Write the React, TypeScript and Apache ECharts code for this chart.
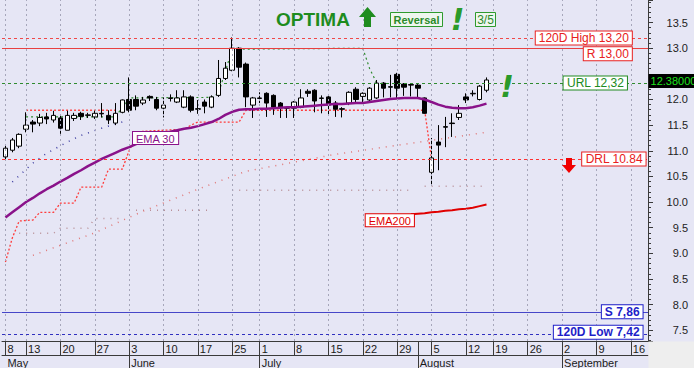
import React, { useEffect, useRef } from 'react';
import * as echarts from 'echarts';

const FONT = '"Liberation Sans", Arial, sans-serif';
const BG = '#E6E6F5';

// Trading calendar
const FIRST_DAY = '2019-05-08';
const LAST_DAY = '2019-09-18';
const NO_SESSION = ['2019-06-24', '2019-08-16'];
const MONTH_NAMES = ['January', 'February', 'March', 'April', 'May', 'June', 'July', 'August', 'September', 'October', 'November', 'December'];

// Daily candles
const OPEN = [
  10.88, 11.01, 11.09, 11.42, 11.56, 11.54, 11.66, 11.60, 11.64, 11.40,
  11.63, 11.73, 11.69, 11.66, 11.73, 11.69, 11.54, 11.75, 12.00, 12.00,
  11.93, 12.06, 12.00, 11.83, 12.02, 11.95, 11.85, 12.05, 11.82, 11.95,
  11.85, 12.08, 12.41, 12.57, 13.00, 12.69, 11.89, 12.02, 12.12, 12.08,
  11.93, 11.84, 11.83, 11.85, 12.16, 12.18, 12.02, 12.05, 11.93, 11.82,
  11.93, 12.20, 12.06, 11.99, 12.03, 12.32, 12.25, 12.49, 12.30, 12.29,
  12.28, 12.03, 10.58, 11.17, 11.47, 11.54, 11.65, 12.05, 12.11, 12.00,
  12.18,
];
const CLOSE = [
  11.05, 11.21, 11.32, 11.50, 11.52, 11.65, 11.62, 11.69, 11.44, 11.69,
  11.69, 11.67, 11.70, 11.73, 11.72, 11.60, 11.73, 11.99, 11.79, 11.87,
  11.99, 12.03, 11.83, 11.89, 12.03, 12.03, 12.05, 11.79, 11.81, 11.87,
  12.05, 12.41, 12.61, 13.00, 12.63, 12.05, 12.03, 12.03, 11.93, 11.85,
  11.85, 11.83, 11.95, 12.03, 12.12, 11.97, 12.03, 11.89, 11.81, 11.81,
  12.14, 12.00, 12.12, 12.22, 12.32, 12.22, 12.24, 12.22, 12.24, 12.28,
  12.22, 11.73, 10.86, 11.11, 11.46, 11.53, 11.73, 11.99, 12.12, 12.26,
  12.38,
];
const LOW = [
  10.82, 10.97, 11.05, 11.36, 11.36, 11.48, 11.52, 11.55, 11.33, 11.40,
  11.58, 11.60, 11.64, 11.62, 11.65, 11.52, 11.50, 11.73, 11.75, 11.79,
  11.89, 11.97, 11.79, 11.65, 11.96, 11.93, 11.83, 11.75, 11.72, 11.73,
  11.83, 12.05, 12.38, 12.55, 12.43, 11.85, 11.64, 11.93, 11.66, 11.70,
  11.64, 11.64, 11.64, 11.83, 12.05, 11.75, 11.73, 11.68, 11.66, 11.65,
  11.89, 11.93, 11.93, 11.97, 12.01, 12.04, 12.04, 12.03, 12.07, 12.06,
  12.04, 11.72, 10.33, 10.62, 11.07, 11.27, 11.60, 11.93, 12.06, 11.98,
  12.14,
];
const HIGH = [
  11.10, 11.25, 11.34, 11.75, 11.60, 11.72, 11.74, 11.78, 11.70, 11.78,
  11.74, 11.76, 11.74, 11.78, 11.93, 11.79, 11.93, 12.00, 12.43, 12.08,
  12.05, 12.08, 12.05, 12.04, 12.10, 12.18, 12.18, 12.08, 11.99, 12.00,
  12.08, 12.77, 12.73, 13.21, 13.02, 12.72, 12.05, 12.14, 12.14, 12.10,
  11.95, 11.85, 11.97, 12.20, 12.20, 12.20, 12.08, 12.07, 11.97, 11.85,
  12.16, 12.24, 12.14, 12.24, 12.38, 12.34, 12.48, 12.52, 12.32, 12.32,
  12.30, 12.04, 11.25, 11.50, 11.66, 11.73, 11.89, 12.12, 12.18, 12.28,
  12.43,
];

const EMA30 = [
  9.70, 9.80, 9.90, 10.00, 10.08, 10.17, 10.25, 10.32, 10.40, 10.47,
  10.55, 10.62, 10.70, 10.77, 10.84, 10.90, 10.96, 11.02, 11.07, 11.13,
  11.19, 11.25, 11.31, 11.35, 11.37, 11.40, 11.43, 11.45, 11.48, 11.52,
  11.56, 11.62, 11.70, 11.76, 11.80, 11.81, 11.81, 11.82, 11.82, 11.83,
  11.84, 11.85, 11.85, 11.86, 11.87, 11.88, 11.89, 11.90, 11.91, 11.91,
  11.92, 11.93, 11.93, 11.95, 11.97, 11.99, 12.01, 12.02, 12.03, 12.03,
  12.03, 12.00, 11.95, 11.90, 11.86, 11.84, 11.83, 11.83, 11.85, 11.88,
  11.92,
];
// [dayIndex, value]
const EMA200 = [
  [59, 9.76], [60, 9.77], [61, 9.78], [62, 9.80], [63, 9.81], [64, 9.83],
  [65, 9.84], [66, 9.86], [67, 9.87], [68, 9.89], [69, 9.92], [70, 9.95],
];
const DOWN_STOP = [
  [0, 8.83], [1, 9.3], [2, 9.63], [4, 9.65], [5, 9.80], [7, 9.80], [8, 9.98],
  [10, 9.98], [11, 10.29], [14, 10.29], [15, 10.64], [17, 10.64], [18, 11.0],
  [19, 11.27], [20, 11.38], [26, 11.42], [27, 11.5], [28, 11.56], [34, 11.56],
  [35, 11.79], [61, 11.79], [62, 10.84],
];
const OLD_STOP = [[3, 11.79], [16, 11.79]];
const UP_STOP = [
  [3, 11.66], [16, 11.66], [18, 12.03], [30, 12.04], [31, 12.12], [33, 12.98],
  [52, 13.0], [53, 12.6], [54, 12.33],
];
const LOWER_BAND = [[4, 8.96], [13, 9.4], [20, 9.82], [28, 10.25], [35, 10.6], [48, 10.93], [70, 11.36]];
// [fromIndex, toIndex, value]
const FLOOR_STEPS = [[2, 7, 9.39], [8, 12, 9.49], [13, 17, 9.68], [19, 30, 9.84], [33, 59, 10.23], [61, 70, 10.31]];
const UPPER_BAND = [[1, 10.39], [4, 10.76], [6, 10.95], [9, 11.17], [11, 11.3], [14, 11.44], [17, 11.56]];

const LEVEL_VALUES = [13.2, 13.0, 12.32, 10.84, 7.86, 7.42];
const LEVEL_TEXT = ['120D High 13,20', 'R 13,00', 'URL 12,32', 'DRL 10.84', 'S 7,86', '120D Low 7,42'];
const LAST_PRICE = 12.38;
const LAST_PRICE_TEXT = '12.38000';
// the axis label covered by the last-price tag in the reference
const COVERED_TICK = 12.5;

function buildDates(): string[] {
  const out: string[] = [];
  const d = new Date(FIRST_DAY + 'T00:00:00Z');
  const end = new Date(LAST_DAY + 'T00:00:00Z');
  while (d <= end) {
    const wd = d.getUTCDay();
    const s = d.toISOString().slice(0, 10);
    if (wd !== 0 && wd !== 6 && NO_SESSION.indexOf(s) < 0) out.push(s);
    d.setUTCDate(d.getUTCDate() + 1);
  }
  return out;
}

const DATES = buildDates();
const weekday = (s: string) => new Date(s + 'T00:00:00Z').getUTCDay();
const WEEK_START = DATES.map((s, i) => i === 0 || weekday(s) <= weekday(DATES[i - 1]));
const MONTH_START = DATES.map((s, i) => i > 0 && s.slice(5, 7) !== DATES[i - 1].slice(5, 7));

// styles for level labels (kept apart from data)
const LEVEL_STYLE = [
  { idx: 91, color: '#E82020', line: '#F04848', type: [3, 3], bold: false, v: 'middle', off: [1, 0] },
  { idx: 91, color: '#E82020', line: '#E84040', type: 'solid', bold: false, v: 'top', off: [1, -1] },
  { idx: 90, color: '#208A20', line: '#2E8B2E', type: [3, 3], bold: false, v: 'middle', off: [3, 0] },
  { idx: 93, color: '#E82020', line: '#FF3030', type: [3, 3], bold: false, v: 'middle', off: [1, 0] },
  { idx: 93, color: '#1E1EC8', line: '#4646C8', type: 'solid', bold: true, v: 'middle', off: [-2, 0] },
  { idx: 93, color: '#1E1EC8', line: '#3030C0', type: [3, 3], bold: true, v: 'middle', off: [-2, -2] },
];

const BANG_FONT = 'italic bold 30px "DejaVu Sans", "Liberation Sans", Arial';

export default function App() {
  const ref = useRef<HTMLDivElement>(null);
  useEffect(() => {
    if (!ref.current) return;
    const chart = echarts.init(ref.current, undefined, { renderer: 'svg' });

    const candles = OPEN.map((o, i) => [o, CLOSE[i], LOW[i], HIGH[i]]);
    const floor = DATES.map((_, i) => {
      const seg = FLOOR_STEPS.find((s) => i >= s[0] && i <= s[1]);
      return seg ? seg[2] : '-';
    });
    const weekIdx = DATES.map((_, i) => i).filter((i) => WEEK_START[i]);

    const dotted = (color: string, dash: number[], width = 1.5) => ({
      type: 'line', showSymbol: false, symbol: 'none', silent: true, z: 2,
      lineStyle: { color, type: dash, width },
    });

    const levelLabels = LEVEL_VALUES.map((v, k) => {
      const st = LEVEL_STYLE[k];
      return {
        coord: [st.idx, v],
        label: {
          show: true, position: 'inside', formatter: LEVEL_TEXT[k],
          color: st.color, fontFamily: FONT, fontSize: 12, fontWeight: st.bold ? 'bold' : 'normal',
          backgroundColor: '#FFFFFF', borderColor: st.color, borderWidth: 1,
          padding: [1, 3, 0, 3], align: 'right', verticalAlign: st.v, offset: st.off,
        },
      };
    });

    const option: any = {
      animation: false,
      backgroundColor: BG,
      textStyle: { fontFamily: FONT },
      grid: { left: 2, right: 46, top: 0, bottom: 27, containLabel: false, outerBoundsMode: 'none' },
      xAxis: [
        {
          type: 'category', data: DATES, boundaryGap: true, position: 'bottom',
          axisLine: { show: true, lineStyle: { color: '#3A3A3A', width: 1 } },
          axisTick: {
            show: true, alignWithLabel: true, length: 14,
            interval: (i: number) => WEEK_START[i] || MONTH_START[i],
            lineStyle: { color: '#3A3A3A' },
          },
          axisLabel: {
            show: true, interval: (i: number) => WEEK_START[i],
            formatter: (v: string) => String(Number(v.slice(8))),
            align: 'left', margin: 2, fontSize: 11, color: '#1A1A1A', fontFamily: FONT,
            padding: [0, 0, 0, 2],
          },
          splitLine: { show: false },
        },
        {
          type: 'category', data: DATES, boundaryGap: true, position: 'bottom', offset: 14,
          axisLine: { show: true, lineStyle: { color: '#3A3A3A', width: 1 } },
          axisTick: {
            show: true, alignWithLabel: true, length: 13,
            interval: (i: number) => MONTH_START[i],
            lineStyle: { color: '#3A3A3A' },
          },
          axisLabel: {
            show: true, interval: (i: number) => i === 0 || MONTH_START[i],
            formatter: (v: string) => MONTH_NAMES[Number(v.slice(5, 7)) - 1],
            align: 'left', margin: 2, fontSize: 11, color: '#1A1A1A', fontFamily: FONT,
            padding: [0, 0, 0, 2],
          },
          splitLine: { show: false },
        },
      ],
      yAxis: {
        type: 'value', position: 'right', min: 7.29, max: 13.94, splitNumber: 13,
        axisLine: { show: true, lineStyle: { color: '#3A3A3A' } },
        axisTick: { show: true, length: 5, lineStyle: { color: '#3A3A3A' } },
        minorTick: { show: true, splitNumber: 5, length: 3, lineStyle: { color: '#3A3A3A' } },
        axisLabel: {
          show: true,
          formatter: (v: number) => (Math.abs(v - COVERED_TICK) < 1e-6 ? '' : v.toFixed(1)),
          align: 'right', margin: 40,
          fontSize: 11, color: '#222', fontFamily: FONT, showMinLabel: false, showMaxLabel: false,
        },
        splitLine: { show: false },
      },
      series: [
        {
          ...dotted('#B89098', [1, 6], 1.5), name: 'floor', data: floor, z: 1,
          markLine: {
            silent: true, symbol: ['none', 'none'], label: { show: false },
            lineStyle: { color: '#A6A6BA', type: [2, 3], width: 1 },
            data: weekIdx.map((i) => ({ xAxis: i })),
          },
        },
        { ...dotted('#E07878', [1, 6], 1.5), name: 'lower', data: LOWER_BAND },
        { ...dotted('#3C3CA0', [1, 6], 1.5), name: 'upper', data: UPPER_BAND },
        { ...dotted('#FF4A4A', [2, 2], 1.3), name: 'oldStop', data: OLD_STOP },
        { ...dotted('#FF3B3B', [2, 2], 1.3), name: 'downStop', data: DOWN_STOP },
        { ...dotted('#2E8B2E', [2, 3], 1.2), name: 'upStop', data: UP_STOP },
        {
          type: 'candlestick', name: 'price', data: candles, barWidth: 5, z: 3,
          itemStyle: { color: '#FFFFFF', color0: '#000000', borderColor: '#000000', borderColor0: '#000000', borderWidth: 1 },
          markLine: {
            silent: true, symbol: ['none', 'none'], label: { show: false },
            data: LEVEL_VALUES.map((v, k) => ({
              yAxis: v,
              lineStyle: { color: LEVEL_STYLE[k].line, type: LEVEL_STYLE[k].type, width: 1 },
            })),
          },
          markPoint: {
            symbol: 'circle', symbolSize: 0, silent: true, itemStyle: { color: 'transparent' },
            data: [
              ...levelLabels,
              {
                coord: [93, LAST_PRICE],
                label: {
                  show: true, position: 'inside', formatter: LAST_PRICE_TEXT, color: '#1EE01E',
                  fontFamily: FONT, fontSize: 11, backgroundColor: '#000000',
                  padding: [2, 2, 1, 2], align: 'left', verticalAlign: 'middle', offset: [4, 1],
                },
              },
            ],
          },
        },
        {
          type: 'line', name: 'EMA 30', data: EMA30, showSymbol: false, symbol: 'none', z: 4, silent: true,
          lineStyle: { color: '#8A128A', width: 2.5 },
          markPoint: {
            symbol: 'circle', symbolSize: 0, silent: true, itemStyle: { color: 'transparent' },
            data: [{
              coord: [19, EMA30[19]],
              label: {
                show: true, position: 'inside', formatter: 'EMA 30', color: '#8A128A', fontFamily: FONT,
                fontSize: 11, backgroundColor: '#FFFFFF', borderColor: '#8A128A', borderWidth: 1,
                padding: [1, 3, 0, 3], align: 'left', verticalAlign: 'bottom', offset: [-3, 0],
              },
            }],
          },
        },
        {
          type: 'line', name: 'EMA200', data: EMA200, showSymbol: false, symbol: 'none', z: 4, silent: true,
          lineStyle: { color: '#E00000', width: 2 },
          markPoint: {
            symbol: 'circle', symbolSize: 0, silent: true, itemStyle: { color: 'transparent' },
            data: [{
              coord: [EMA200[0][0], EMA200[0][1]],
              label: {
                show: true, position: 'inside', formatter: 'EMA200', color: '#E00000', fontFamily: FONT,
                fontSize: 11, backgroundColor: '#FFFFFF', borderColor: '#E00000', borderWidth: 1,
                padding: [1, 3, 0, 3], align: 'right', verticalAlign: 'top', offset: [3, 0],
              },
            }],
          },
        },
      ],
      graphic: [
        { type: 'rect', z: 100, shape: { x: 648.5, y: 341.5, width: 46, height: 27 }, style: { fill: '#EEEEEE' } },
        { type: 'text', z: 100, x: 276, y: 19.5, style: { text: 'OPTIMA', fill: '#1E8C1E', font: 'bold 19px "Liberation Sans", Arial', align: 'left', verticalAlign: 'middle' } },
        { type: 'polygon', z: 100, shape: { points: [[359, 17], [367.5, 7], [376, 17], [371, 17], [371, 27], [364, 27], [364, 17]] }, style: { fill: '#1E8C1E' } },
        { type: 'rect', z: 100, shape: { x: 390.5, y: 12.5, width: 52, height: 14 }, style: { fill: '#EEF6EE', stroke: '#2E9A2E', lineWidth: 1 } },
        { type: 'text', z: 101, x: 416.5, y: 19.5, style: { text: 'Reversal', fill: '#2A8A2A', font: 'bold 11px "Liberation Sans", Arial', align: 'center', verticalAlign: 'middle' } },
        { type: 'text', z: 100, x: 457.5, y: 19.5, style: { text: '!', fill: '#2A9A2A', font: BANG_FONT, align: 'center', verticalAlign: 'middle' } },
        { type: 'rect', z: 100, shape: { x: 475.5, y: 12.5, width: 20, height: 14 }, style: { fill: '#EEF6EE', stroke: '#2E9A2E', lineWidth: 1 } },
        { type: 'text', z: 101, x: 485.5, y: 19.5, style: { text: '3/5', fill: '#2A8A2A', font: '12px "Liberation Sans", Arial', align: 'center', verticalAlign: 'middle' } },
        { type: 'text', z: 100, x: 507, y: 86.5, style: { text: '!', fill: '#2A9A2A', font: BANG_FONT, align: 'center', verticalAlign: 'middle' } },
        { type: 'polygon', z: 100, shape: { points: [[566, 158], [572, 158], [572, 165], [576, 165], [569, 173], [562, 165], [566, 165]] }, style: { fill: '#F00000' } },
      ],
    };

    chart.setOption(option);
    return () => chart.dispose();
  }, []);

  return <div ref={ref} style={{ position: 'fixed', left: 0, top: 0, width: 694, height: 368, background: BG }} />;
}
